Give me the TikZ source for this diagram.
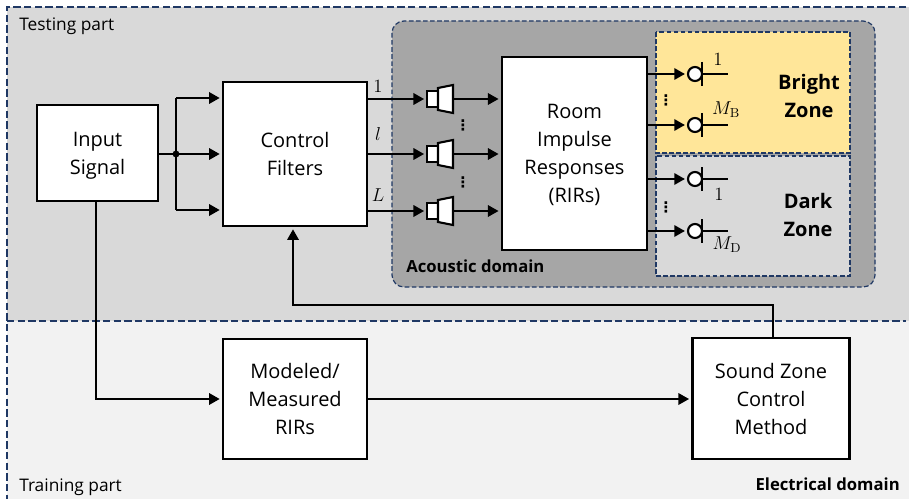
\documentclass[tikz,border=0pt]{standalone}
\usepackage{fix-cm}
\usepackage[no-math]{fontspec}
\setmainfont{Open Sans}
\newfontfamily\dotfont{DejaVu Sans}
\usetikzlibrary{arrows.meta,positioning}
\definecolor{navyline}{HTML}{1F3864}
\definecolor{testgray}{HTML}{D9D9D9}
\definecolor{traingray}{HTML}{F2F2F2}
\definecolor{roomgray}{HTML}{A6A6A6}
\definecolor{brightyellow}{HTML}{FFE699}
\tikzset{
    blockbox/.style={draw, fill=white, line width=1.9pt, align=center, text depth=0pt, font=\fontsize{15}{21}\selectfont, inner sep=0pt},
    partline/.style={draw=navyline, line width=1.1pt, dash pattern=on 5.5pt off 2.5pt},
    domainbox/.style={draw=navyline, line width=0.9pt, dash pattern=on 3.5pt off 1.8pt},
    signal/.style={-{Triangle[length=8pt,width=8.5pt]}, line width=1.7pt, shorten >=1.5pt},
    wire/.style={line width=1.7pt},
    magnet/.style={draw, fill=white, line width=1.6pt, minimum width=8pt, minimum height=12pt, inner sep=0pt},
    micro/.style={circle, draw, fill=white, line width=1.6pt, minimum size=10.5pt, inner sep=0pt},
    tag/.style={font=\fontsize{13}{15}\selectfont, inner sep=0pt},
    boldtag/.style={font=\fontsize{12.5}{15}\selectfont\bfseries, inner sep=0pt},
    zonetag/.style={font=\fontsize{15}{21}\selectfont\bfseries, align=center, inner sep=0pt},
    mathtag/.style={font=\fontsize{14}{16}\selectfont, inner sep=0pt},
    chandots/.style={font=\fontsize{11}{11}\selectfont\dotfont\bfseries, inner sep=0pt}
}
\begin{document}
\begin{tikzpicture}[x=0.75pt, y=-0.75pt]
    \useasboundingbox (0,0) rectangle (909,499);
    % background regions
    \fill[traingray] (7,321) rectangle (909,499);
    \fill[testgray] (7,7) rectangle (909,321);
    \draw[partline] (906,7) -- (7,7) -- (7,499);
    \draw[partline] (7,321) -- (906,321);
    \draw[domainbox, fill=roomgray, rounded corners=9pt] (392,21) rectangle (875,287);
    \draw[domainbox, fill=brightyellow] (656,32) rectangle (850,153);
    \draw[domainbox, fill=testgray] (656,156) rectangle (850,276);
    % blocks
    \node[blockbox, minimum width=91pt, minimum height=72pt] (input) at (97.5,153) {Input\\Signal};
    \node[blockbox, minimum width=108pt, minimum height=108pt] (ctrl) at (295,154) {Control\\Filters};
    \node[blockbox, minimum width=109pt, minimum height=145pt] (rirs) at (574.5,153.5) {Room\\Impulse\\Responses\\(RIRs)};
    \node[blockbox, minimum width=108pt, minimum height=90pt] (model) at (295,399) {Modeled/\\Measured\\RIRs};
    \node[blockbox, minimum width=118pt, minimum height=91pt] (method) at (771,398.5) {Sound Zone\\Control\\Method};
    % split after the input
    \coordinate (split) at (176,154);
    \coordinate (splitup) at (176,98);
    \coordinate (splitlow) at (176,210);
    \draw[wire] (splitup) -- (splitlow);
    \draw[signal] (input.east |- split) -- (ctrl.west |- split);
    \draw[signal] (splitup) -- (ctrl.west |- splitup);
    \draw[signal] (splitlow) -- (ctrl.west |- splitlow);
    \fill (split) circle (2.6pt);
    % loudspeakers
    \foreach \i/\y in {1/99,2/154,3/211} {
        \node[magnet] (spk\i) at (432.5,\y) {};
        \draw[fill=white, line width=1.6pt, line join=miter] (438,\y-11) -- (453,\y-14) -- (453,\y+14) -- (438,\y+11) -- cycle;
        \coordinate (cone\i) at (453,\y);
        \draw[signal] (ctrl.east |- spk\i) -- (spk\i.west);
        \draw[signal] (cone\i) -- (rirs.west |- cone\i);
    }
    % microphones
    \foreach \i/\y in {1/74,2/125,3/179,4/231} {
        \node[micro] (mic\i) at (695,\y) {};
        \draw[signal] (rirs.east |- mic\i) -- (mic\i.west);
        \draw[line width=1.6pt] (702,\y-12) -- (702,\y+12);
        \draw[wire] (mic\i.east) -- (728,\y);
    }
    % feedback and training path
    \coordinate (fbright) at (773,305);
    \coordinate (fbleft) at (293,305);
    \draw[signal] (fbright |- method.north) -- (fbright) -- (fbleft) -- (fbleft |- ctrl.south);
    \draw[signal] ([xshift=-1pt]input.south) |- (model.west);
    \draw[signal] (model.east) -- (method.west |- model.east);
    % labels
    \node[tag, anchor=west] (testing) at (19,26) {Testing part};
    \node[tag, anchor=west] (training) at (19,487) {Training part};
    \node[boldtag, anchor=west] (acoustic) at (406,266) {Acoustic domain};
    \node[boldtag, anchor=east] (electrical) at (900,484) {Electrical domain};
    \node[zonetag] (bright) at (809,96) {Bright\\Zone};
    \node[zonetag] (dark) at (808,215) {Dark\\Zone};
    \node[mathtag] (out1) at (378,86) {$1$};
    \node[mathtag] (outl) at (378,134) {$l$};
    \node[mathtag] (outL) at (378,195) {$L$};
    \node[mathtag] (bfirst) at (718,59) {$1$};
    \node[mathtag] (blast) at (726,110) {$M_{\mathrm{B}}$};
    \node[mathtag] (dfirst) at (719,194) {$1$};
    \node[mathtag] (dlast) at (727,245) {$M_{\mathrm{D}}$};
    % dots between channels
    \foreach \x/\y in {463/125,463/182,666/100,666/207}
        \node[chandots] at (\x,\y) {⋮};
\end{tikzpicture}
\end{document}
